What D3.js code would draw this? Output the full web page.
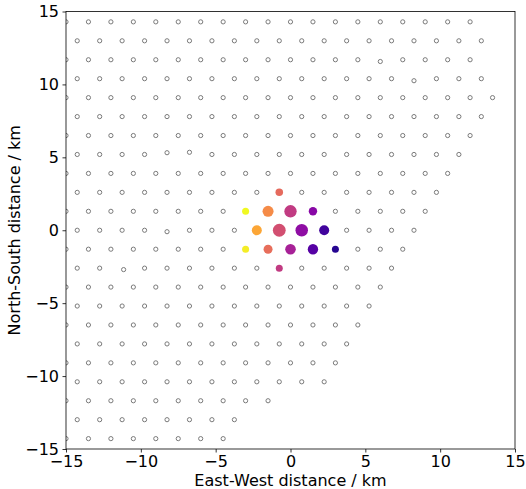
<!DOCTYPE html>
<html>
<head>
<meta charset="utf-8">
<script src="https://cdn.jsdelivr.net/npm/d3@7"></script>
<style>
  body { margin: 0; background: #fff; }
  text { font-family: "DejaVu Sans", sans-serif; }
</style>
</head>
<body>
<div id="chart"></div>
<script>
// Station grid: hex rows (row index, first and last east-west position in km)
const rowIndex = [11, 10, 9, 8, 7, 6, 5, 4, 3, 2, 1, 0, -1, -2, -3, -4, -5, -6, -7, -8, -9, -10, -11];
const rowXStart = [-15, -14.25, -15, -14.25, -15, -14.25, -15, -14.25, -15, -14.25, -15, -14.25,
                   -15, -14.25, -15, -14.25, -15, -14.25, -15, -14.25, -15, -14.25, -15];
const rowXEnd = [12, 12.75, 12, 12.75, 13.5, 12.75, 12, 11.25, 10.5, 9.75, 9, 8.25,
                 7.5, 6.75, 6, 5.25, 4.5, 3.75, 3, 2.25, -1.5, -3.75, -4.5];
const stationSpacing = 1.5;

// A few stations sit slightly off the grid: [row, x, dx, dy]
const stationShifts = [
    [4, -8.25, 0, 0.12], [4, -6.75, 0, 0.15], [0, -8.25, 0, -0.1],
    [-2, -11.25, 0.1, -0.1], [9, 6, 0, -0.12], [8, 8.25, 0, -0.14]
];

// Triggered stations
const hitX = [-0.75, -3, -1.5, 0, 1.5, -2.25, -0.75, 0.75, 2.25, -3, -1.5, 0, 1.5, 3, -0.75];
const hitY = [2.6, 1.3, 1.3, 1.3, 1.3, 0, 0, 0, 0, -1.3, -1.3, -1.3, -1.3, -1.3, -2.6];
const hitTime = [0.62, 1.0, 0.72, 0.46, 0.28, 0.8, 0.53, 0.3, 0.1, 0.97, 0.63, 0.37, 0.15, 0.04, 0.46];
const hitAmp = [0.29, 0.25, 0.62, 0.78, 0.36, 0.51, 0.84, 0.8, 0.51, 0.25, 0.41, 0.57, 0.55, 0.25, 0.25];

const axisTicks = [-15, -10, -5, 0, 5, 10, 15];

const W = 526, H = 489;
const margin = { top: 11.5, right: 11, bottom: 40, left: 66 };
const width = W - margin.left - margin.right;
const height = H - margin.top - margin.bottom;

const svg = d3.select("#chart").append("svg")
    .attr("width", W)
    .attr("height", H);

const g = svg.append("g")
    .attr("transform", "translate(" + margin.left + "," + margin.top + ")");

const x = d3.scaleLinear().domain([-15, 15]).range([0, width]);
const y = d3.scaleLinear().domain([-15, 15]).range([height, 0]);
const r = d3.scaleSqrt().domain([0, 1]).range([0, 7]);

g.append("clipPath").attr("id", "clip")
    .append("rect").attr("width", width).attr("height", height);

// build station list from the rows
const rowStep = stationSpacing * Math.sqrt(3) / 2;
const stations = [];
rowIndex.forEach((j, i) => {
    const n = Math.round((rowXEnd[i] - rowXStart[i]) / stationSpacing);
    for (let k = 0; k <= n; k++) {
        const sx = rowXStart[i] + k * stationSpacing;
        const shift = stationShifts.find(s => s[0] === j && Math.abs(s[1] - sx) < 0.01);
        stations.push({
            x: sx + (shift ? shift[2] : 0),
            y: j * rowStep + (shift ? shift[3] : 0)
        });
    }
});

const plot = g.append("g").attr("clip-path", "url(#clip)");

plot.selectAll("circle.station")
    .data(stations)
    .enter().append("circle")
    .attr("class", "station")
    .attr("cx", d => x(d.x))
    .attr("cy", d => y(d.y))
    .attr("r", 2.1)
    .attr("fill", "none")
    .attr("stroke", "#7a7a7a")
    .attr("stroke-width", 1);

const hits = hitX.map((v, i) => ({ x: v, y: hitY[i], t: hitTime[i], a: hitAmp[i] }));

plot.selectAll("circle.hit")
    .data(hits)
    .enter().append("circle")
    .attr("class", "hit")
    .attr("cx", d => x(d.x))
    .attr("cy", d => y(d.y))
    .attr("r", d => r(d.a))
    .attr("fill", d => d3.interpolatePlasma(d.t));

// axes
const xAxis = g.append("g")
    .attr("transform", "translate(0," + height + ")")
    .call(d3.axisBottom(x).tickValues(axisTicks).tickSize(3.5).tickPadding(3.5).tickSizeOuter(0));

const yAxis = g.append("g")
    .call(d3.axisLeft(y).tickValues(axisTicks).tickSize(3.5).tickPadding(3.5).tickSizeOuter(0));

[xAxis, yAxis].forEach(a => {
    a.selectAll("text").attr("font-size", 16).attr("fill", "#000")
        .style("font-family", "'DejaVu Sans', sans-serif");
    a.selectAll("line").attr("stroke", "#000").attr("stroke-width", 0.8);
    a.select(".domain").remove();
});

// frame
g.append("rect")
    .attr("width", width)
    .attr("height", height)
    .attr("fill", "none")
    .attr("stroke", "#000")
    .attr("stroke-width", 0.8);

svg.append("text")
    .attr("x", margin.left + width / 2)
    .attr("y", 486)
    .attr("text-anchor", "middle")
    .attr("font-size", 16)
    .text("East-West distance / km");

svg.append("text")
    .attr("transform", "translate(20," + (margin.top + height / 2) + ") rotate(-90)")
    .attr("text-anchor", "middle")
    .attr("font-size", 16)
    .text("North-South distance / km");
</script>
</body>
</html>
